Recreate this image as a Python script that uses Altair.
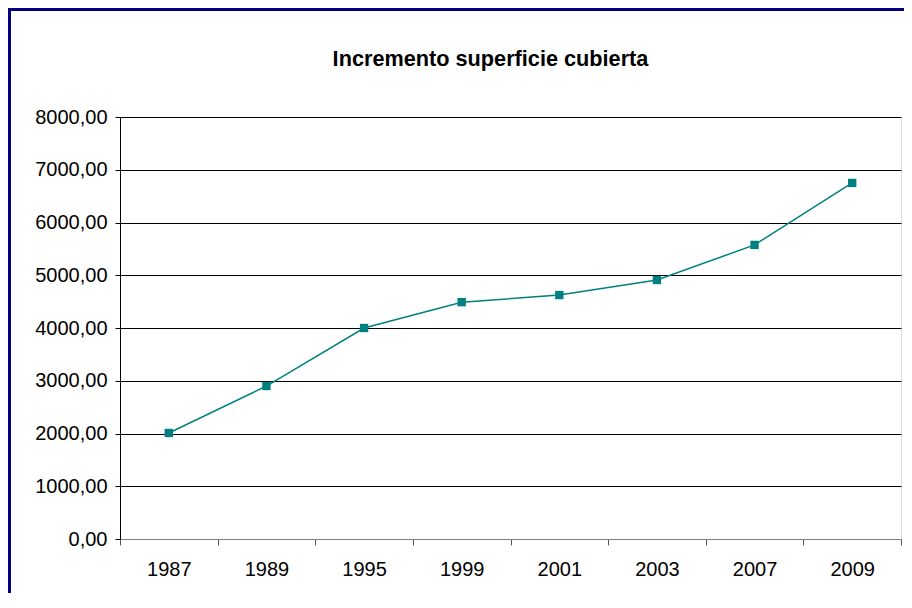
import altair as alt
import pandas as pd

years = ["1987", "1989", "1995", "1999", "2001", "2003", "2007", "2009"]
values = [2010, 2900, 4000, 4490, 4625, 4910, 5575, 6750]
title_text = ["Incremento superficie cubierta"]

df = pd.DataFrame({"year": years, "value": values})

FONT = "Liberation Sans"
TEAL = "#008080"

base = alt.Chart(df)

line = base.mark_line(color=TEAL, strokeWidth=1.5).encode(
    x=alt.X("year:N", sort=years, title=None,
            scale=alt.Scale(paddingInner=0, paddingOuter=0),
            axis=alt.Axis(labelAngle=0, tickBand="extent", tickSize=6,
                          labelFont=FONT, labelFontSize=20, labelColor="#000",
                          labelPadding=14, domainColor="#808080", tickColor="#555",
                          grid=False)),
    y=alt.Y("value:Q", title=None,
            scale=alt.Scale(domain=[0, 8000], nice=False),
            axis=alt.Axis(values=list(range(0, 8001, 1000)), tickSize=5,
                          labelExpr="replace(format(datum.value, '.2f'), '.', ',')",
                          labelFont=FONT, labelFontSize=20, labelColor="#000",
                          labelPadding=8, domainColor="#000", tickColor="#000",
                          grid=True, gridColor="#000", gridWidth=1, gridOpacity=1)),
)

points = base.mark_point(shape="square", filled=True, size=70, color=TEAL, opacity=1).encode(
    x=alt.X("year:N", sort=years),
    y=alt.Y("value:Q"),
)

title = alt.Chart(pd.DataFrame({"t": title_text})).mark_text(
    font=FONT, fontSize=21.7, fontWeight="bold", color="#000",
    align="center", baseline="alphabetic"
).encode(
    text="t:N",
    x=alt.value(370.5),
    y=alt.value(-51),
)

border = alt.Chart(pd.DataFrame({"a": [0]})).mark_rect(
    filled=False, stroke="#000080", strokeWidth=3, clip=False
).encode(
    x=alt.value(-110.5),
    x2=alt.value(820),
    y=alt.value(-107.5),
    y2=alt.value(520),
)

chart = alt.layer(line, points, title, border).properties(
    width=781,
    height=422,
    autosize=alt.AutoSizeParams(type="none"),
    padding={"left": 112, "top": 109, "right": 3, "bottom": 54},
).configure_view(stroke="#808080", strokeWidth=1).configure(background="white")

chart.save("out.html", embed_options={"renderer": "svg", "actions": False})
